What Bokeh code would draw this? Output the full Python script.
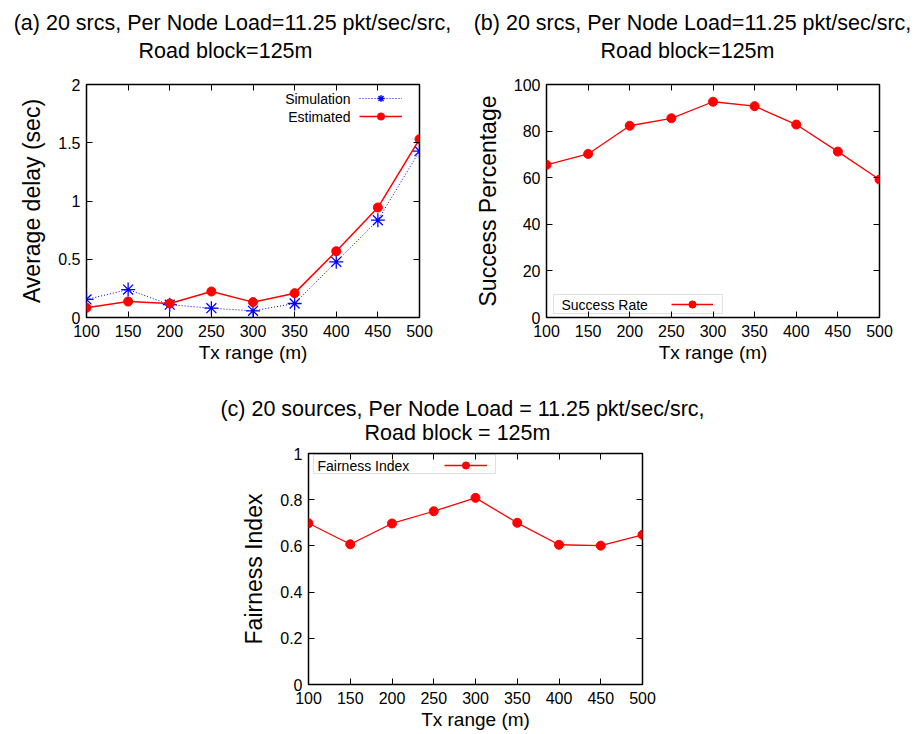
from bokeh.plotting import figure
from bokeh.layouts import column, row
from bokeh.models import (Range1d, FixedTicker, LinearAxis, NumeralTickFormatter,
                          CustomJSTickFormatter, Label, Legend, LegendItem, BoxAnnotation)
from bokeh.core.properties import value
from bokeh.embed import file_html
from bokeh.resources import INLINE

# ---------------- data ----------------
tx_range = [100, 150, 200, 250, 300, 350, 400, 450, 500]
sim_delay = [0.155, 0.24, 0.11, 0.08, 0.057, 0.12, 0.478, 0.835, 1.428]
est_delay = [0.083, 0.137, 0.12, 0.223, 0.132, 0.209, 0.569, 0.944, 1.531]
success_rate = [65.5, 70.2, 82.3, 85.5, 92.6, 90.7, 82.8, 71.2, 59.2]
fairness = [0.698, 0.607, 0.697, 0.75, 0.808, 0.70, 0.605, 0.601, 0.648]

x_ticks = [100, 150, 200, 250, 300, 350, 400, 450, 500]
delay_ticks = [0, 0.5, 1, 1.5, 2]
success_ticks = [0, 20, 40, 60, 80, 100]
fair_ticks = [0, 0.2, 0.4, 0.6, 0.8, 1]

title_a = ["(a) 20 srcs, Per Node Load=11.25 pkt/sec/src,", "Road block=125m"]
title_b = ["(b) 20 srcs, Per Node Load=11.25 pkt/sec/src,", "Road block=125m"]
title_c = ["(c) 20 sources, Per Node Load = 11.25 pkt/sec/src,", "Road block = 125m"]

FONT = "Liberation Sans"
RED = "#ff0000"
BLUE = "#0000ff"
W = 921


def make_fig(width, height, left, right, top, bottom, yr, yticks, ylabel, yfmt=None):
    p = figure(width=width, height=height, output_backend="svg", toolbar_location=None,
               x_range=Range1d(100, 500), y_range=Range1d(*yr),
               min_border_left=left, min_border_right=right,
               min_border_top=top, min_border_bottom=bottom,
               x_axis_label="Tx range (m)", y_axis_label=ylabel)
    p.frame_align = False
    p.xgrid.visible = False
    p.ygrid.visible = False
    p.outline_line_color = "black"
    p.outline_line_width = 1.5
    p.outline_line_alpha = 1
    p.background_fill_color = "white"
    p.border_fill_color = "white"
    p.xaxis.ticker = FixedTicker(ticks=x_ticks)
    p.yaxis.ticker = FixedTicker(ticks=yticks)
    if yfmt is not None:
        p.yaxis.formatter = yfmt
    for ax in (p.xaxis[0], p.yaxis[0]):
        ax.axis_line_color = None
        ax.major_tick_in = 6
        ax.major_tick_out = 0
        ax.minor_tick_line_color = None
        ax.major_tick_line_color = "black"
        ax.major_label_text_font = FONT
        ax.major_label_text_font_size = "16px"
        ax.major_label_text_color = "black"
        ax.axis_label_text_font = FONT
        ax.axis_label_text_font_style = "normal"
        ax.axis_label_text_color = "black"
    p.xaxis.major_label_standoff = 7
    p.xaxis.axis_label_standoff = 2
    p.xaxis.axis_label_text_font_size = "19px"
    p.yaxis.major_label_standoff = 6
    p.yaxis.axis_label_standoff = 10
    p.yaxis.axis_label_text_font_size = "23px"
    # mirrored ticks on top / right
    blank = CustomJSTickFormatter(code="return ''")
    top_ax = LinearAxis(ticker=FixedTicker(ticks=x_ticks), formatter=blank,
                        axis_line_color=None, major_tick_in=6, major_tick_out=0,
                        minor_tick_line_color=None, major_tick_line_color="black",
                        major_label_standoff=0, major_label_text_font_size="1px")
    right_ax = LinearAxis(ticker=FixedTicker(ticks=yticks), formatter=blank,
                          axis_line_color=None, major_tick_in=6, major_tick_out=0,
                          minor_tick_line_color=None, major_tick_line_color="black",
                          major_label_standoff=0, major_label_text_font_size="1px")
    p.add_layout(top_ax, "above")
    p.add_layout(right_ax, "right")
    return p


def title_fig(height, xs, ys, texts):
    t = figure(width=W, height=height, output_backend="svg", toolbar_location=None,
               x_range=Range1d(0, W), y_range=Range1d(height, 0),
               x_axis_location=None, y_axis_location=None, min_border=0,
               outline_line_color=None)
    t.frame_align = False
    t.xgrid.visible = False
    t.ygrid.visible = False
    t.text(x=xs, y=ys, text=texts, text_font=value(FONT), text_font_size="21.5px",
           text_color="black", text_align="center", text_baseline="alphabetic")
    return t


def add_text(p, txt, x, y, size, align="center", baseline="alphabetic"):
    p.add_layout(Label(x=x, y=y, x_units="screen", y_units="screen", text=txt,
                       text_font=FONT, text_font_size=size, text_color="black",
                       text_align=align, text_baseline=baseline))


def add_legend(p, items, x, y, glyph_width):
    leg = Legend(items=items, location=(x, y), padding=0, spacing=0, margin=0,
                 glyph_height=18, glyph_width=glyph_width, label_height=18,
                 label_width=0, label_standoff=0, border_line_color=None,
                 background_fill_alpha=0, label_text_font_size="14px")
    p.add_layout(leg)


# ---------------- titles (a), (b) ----------------
t_top = title_fig(70, [232, 225, 692, 687], [22, 50, 22, 50],
                  [title_a[0], title_a[1], title_b[0], title_b[1]])

# ---------------- (a) ----------------
pa = make_fig(450, 300, 86, 31, 14, 53, (0, 2), delay_ticks, "Average delay (sec)",
              NumeralTickFormatter(format="0.[0]"))
l_sim = pa.line(tx_range, sim_delay, line_color=BLUE, line_width=1, line_dash="1 2")
m_sim = pa.scatter(tx_range, sim_delay, marker="asterisk", size=14, line_color=BLUE,
                   line_width=1.3)
l_est = pa.line(tx_range, est_delay, line_color=RED, line_width=1.5)
m_est = pa.scatter(tx_range, est_delay, marker="circle", size=9, fill_color=RED,
                   line_color=RED)
add_legend(pa, [LegendItem(label=value(""), renderers=[l_sim, m_sim]),
                LegendItem(label=value(""), renderers=[l_est, m_est])], 273, 192, 43)
add_text(pa, "Simulation", 264, 219, "14px", align="right", baseline="middle")
add_text(pa, "Estimated", 264, 201, "14px", align="right", baseline="middle")

# ---------------- (b) ----------------
pb = make_fig(471, 300, 96, 42, 14, 53, (0, 100), success_ticks, "Success Percentage")
l_sr = pb.line(tx_range, success_rate, line_color=RED, line_width=1.3)
m_sr = pb.scatter(tx_range, success_rate, marker="circle", size=9, fill_color=RED,
                  line_color=RED)
pb.add_layout(BoxAnnotation(left=7, right=176, bottom=4, top=23, left_units="screen",
                            right_units="screen", top_units="screen", bottom_units="screen",
                            fill_alpha=0, line_color="#333333", line_width=1,
                            line_dash="1 1"))
add_legend(pb, [LegendItem(label=value(""), renderers=[l_sr, m_sr])], 125, 4, 42)
add_text(pb, "Success Rate", 15, 13, "14px", align="left", baseline="middle")

# ---------------- title (c) ----------------
t_mid = title_fig(75, [462, 457], [38, 62], [title_c[0], title_c[1]])

# ---------------- (c) ----------------
pc = make_fig(W, 289, 308, 279, 8, 50, (0, 1), fair_ticks, "Fairness Index",
              NumeralTickFormatter(format="0.[0]"))
l_fi = pc.line(tx_range, fairness, line_color=RED, line_width=1.3)
m_fi = pc.scatter(tx_range, fairness, marker="circle", size=9, fill_color=RED,
                  line_color=RED)
pc.add_layout(BoxAnnotation(left=5, right=187, bottom=211, top=230, left_units="screen",
                            right_units="screen", top_units="screen", bottom_units="screen",
                            fill_alpha=0, line_color="#333333", line_width=1,
                            line_dash="1 1"))
add_legend(pc, [LegendItem(label=value(""), renderers=[l_fi, m_fi])], 136, 210, 43)
add_text(pc, "Fairness Index", 9, 219, "14px", align="left", baseline="middle")

layout = column(t_top, row(pa, pb), t_mid, pc)
open("out.html", "w").write(file_html(layout, INLINE))
